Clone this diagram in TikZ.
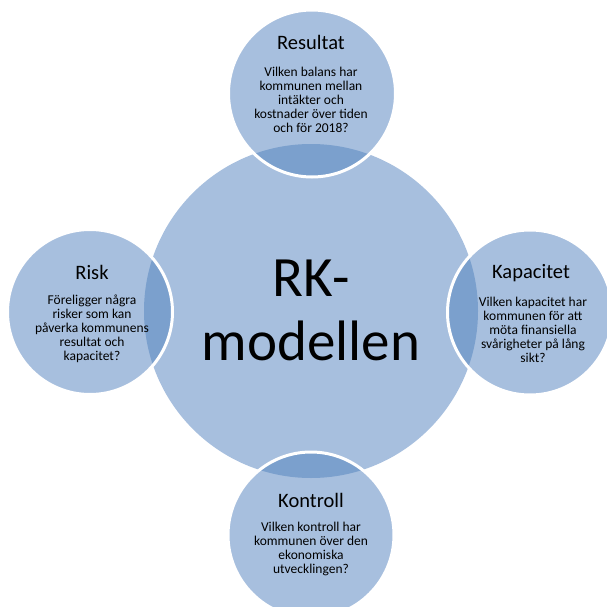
\documentclass[tikz,border=0pt]{standalone}
\usepackage{fontspec}
\setmainfont{Carlito}
\definecolor{lightblue}{HTML}{A7BFDE}
\definecolor{lensblue}{HTML}{7BA0CD}
\begin{document}
\begin{tikzpicture}[x=1pt,y=-1pt,
  titletext/.style={font=\fontsize{20.5}{24}\selectfont, align=center, inner sep=0pt, text=black},
  bodytext/.style={font=\fontsize{13.5}{14}\selectfont, align=center, inner sep=0pt, text=black},
  ring/.style={draw=white, line width=3pt}]
\path[use as bounding box] (0,0) rectangle (607,607);
\clip (0,0) rectangle (607,607);
\coordinate (C) at (311,311);
\coordinate (T) at (312,93.5);
\coordinate (L) at (90,312);
\coordinate (R) at (530,312.5);
\coordinate (B) at (311,535);
\fill[lightblue] (C) circle (167pt);
\foreach \p/\r in {T/83.5pt, L/82.5pt, R/82.5pt, B/83pt}{
  \fill[lightblue] (\p) circle (\r);
  \begin{scope}
    \clip (C) circle (167pt);
    \fill[lensblue] (\p) circle (\r);
  \end{scope}
  \draw[ring] (\p) circle (\r);
}
\node (rk) [font=\fontsize{57}{64}\selectfont, align=center, inner sep=0pt] at (311,310) {RK-\\modellen};
\node (resultat) [titletext] at (311,42) {Resultat};
\node (resultatq) [bodytext] at (311,99.5) {Vilken balans har\\kommunen mellan\\intäkter och\\kostnader över tiden\\och för 2018?};
\node (risk) [titletext] at (92,272) {Risk};
\node (riskq) [bodytext] at (92,328.5) {Föreligger några\\risker som kan\\påverka kommunens\\resultat och\\kapacitet?};
\node (kap) [titletext] at (531,273) {Kapacitet};
\node (kapq) [bodytext] at (533,329.5) {Vilken kapacitet har\\kommunen för att\\möta finansiella\\svårigheter på lång\\sikt?};
\node (kontroll) [titletext] at (311,500) {Kontroll};
\node (kontrollq) [bodytext] at (311,549) {Vilken kontroll har\\kommunen över den\\ekonomiska\\utvecklingen?};
\end{tikzpicture}
\end{document}
